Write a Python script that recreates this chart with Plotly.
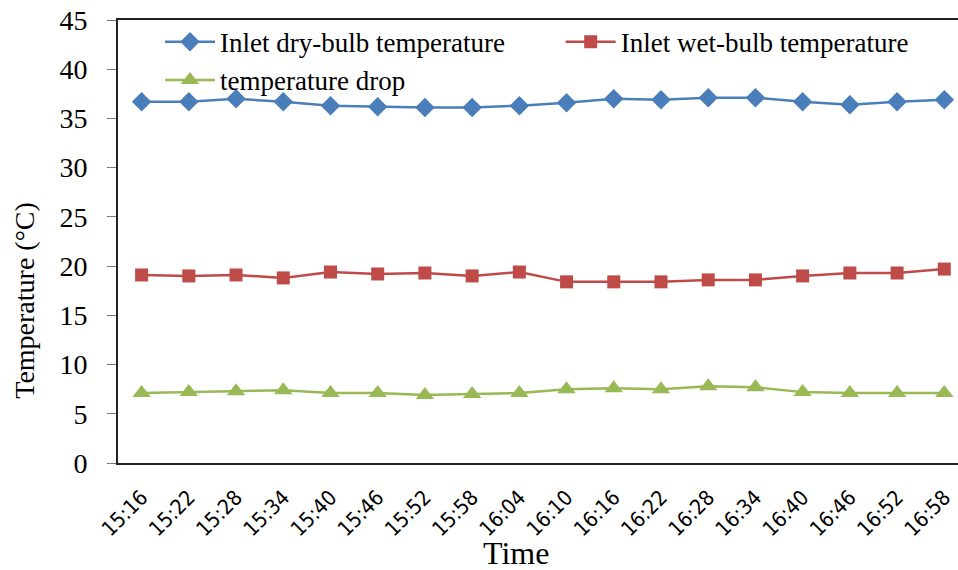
import plotly.graph_objects as go

times = ["15:16", "15:22", "15:28", "15:34", "15:40", "15:46", "15:52", "15:58", "16:04",
         "16:10", "16:16", "16:22", "16:28", "16:34", "16:40", "16:46", "16:52", "16:58"]
dry_bulb = [36.7, 36.7, 37.0, 36.7, 36.3, 36.2, 36.1, 36.1, 36.3,
            36.6, 37.0, 36.9, 37.1, 37.1, 36.7, 36.4, 36.7, 36.9]
wet_bulb = [19.1, 19.0, 19.1, 18.8, 19.4, 19.2, 19.3, 19.0, 19.4,
            18.4, 18.4, 18.4, 18.6, 18.6, 19.0, 19.3, 19.3, 19.7]
temp_drop = [7.1, 7.2, 7.3, 7.4, 7.1, 7.1, 6.9, 7.0, 7.1,
             7.5, 7.6, 7.5, 7.8, 7.7, 7.2, 7.1, 7.1, 7.1]

BLUE = "#4a7ebb"
RED = "#be4b48"
GREEN = "#98b954"
SERIF = "Liberation Serif"

idx = list(range(len(times)))

fig = go.Figure()
fig.add_trace(go.Scatter(
    x=idx, y=dry_bulb, name="Inlet dry-bulb temperature", mode="lines+markers",
    line=dict(color=BLUE, width=2.5),
    marker=dict(symbol="diamond", size=15, color=BLUE), legend="legend"))
fig.add_trace(go.Scatter(
    x=idx, y=wet_bulb, name="Inlet wet-bulb temperature", mode="lines+markers",
    line=dict(color=RED, width=2.5),
    marker=dict(symbol="square", size=13, color=RED), legend="legend2"))
fig.add_trace(go.Scatter(
    x=idx, y=temp_drop, name="temperature drop", mode="lines+markers",
    line=dict(color=GREEN, width=2.5),
    marker=dict(symbol="triangle-up", size=16, color=GREEN), legend="legend"))

# boundary ticks between categories, below the x axis
fig.add_trace(go.Scatter(
    x=[v for i in range(len(times) + 1) for v in (i - 0.5, i - 0.5, None)],
    y=[v for i in range(len(times) + 1) for v in (0, -0.8, None)],
    mode="lines", line=dict(color="#777", width=1),
    hoverinfo="skip", showlegend=False, cliponaxis=False))

legend_style = dict(
    orientation="v", yanchor="top", xanchor="left",
    font=dict(family=SERIF, size=27, color="black"),
    bgcolor="rgba(0,0,0,0)", itemwidth=50, tracegroupgap=0)

fig.update_layout(
    width=958, height=570,
    margin=dict(l=118, r=0, t=20, b=107),
    paper_bgcolor="white", plot_bgcolor="white",
    showlegend=True,
    legend=dict(x=0.05, y=1.005, **legend_style),
    legend2=dict(x=0.527, y=1.005, **legend_style),
    xaxis=dict(
        range=[-0.5, 17.29],
        tickmode="array", tickvals=idx, ticktext=times,
        tickangle=-45, ticklabelstandoff=12,
        tickfont=dict(family="DejaVu Sans Condensed", size=21, color="black"),
        showgrid=False, zeroline=False,
        showline=True, linecolor="#222", linewidth=2, mirror=True,
        ticks="",
    ),
    yaxis=dict(
        range=[0, 45], dtick=5,
        tickfont=dict(family=SERIF, size=28, color="black"),
        ticklabelstandoff=14,
        showgrid=False, zeroline=False,
        showline=True, linecolor="#222", linewidth=2,
        ticks="outside", ticklen=9, tickcolor="#777", tickwidth=1,
    ),
    annotations=[
        dict(text="Temperature (°C)", xref="paper", yref="paper",
             x=-0.111, y=0.368, xanchor="center", yanchor="middle",
             textangle=-90, showarrow=False,
             font=dict(family=SERIF, size=28, color="black")),
        dict(text="Time", xref="paper", yref="paper",
             x=0.474, y=-0.204, xanchor="center", yanchor="middle",
             showarrow=False,
             font=dict(family=SERIF, size=32, color="black")),
    ],
)

fig.write_html("out.html")
